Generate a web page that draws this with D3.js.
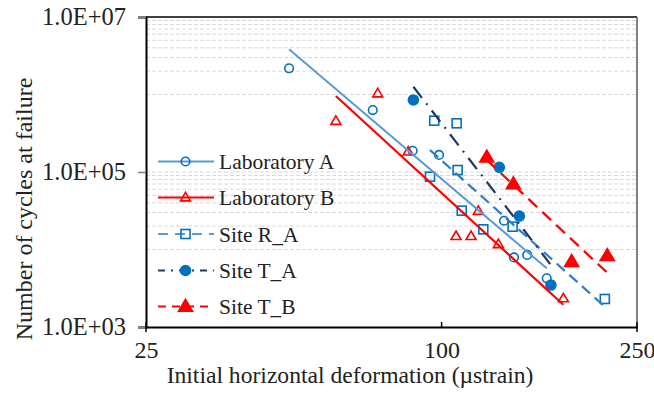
<!DOCTYPE html>
<html><head><meta charset="utf-8">
<script src="https://cdn.jsdelivr.net/npm/d3@7"></script>
<style>body{margin:0;background:#fff}svg{display:block}</style>
</head><body><svg id="c" width="654" height="393"></svg>
<script>
// ---- data ----
const xTicks = [25, 100, 250];
const yTicks = [1e3, 1e5, 1e7];
const yTickLabels = ["1.0E+03", "1.0E+05", "1.0E+07"];
const gridValues = [1e4,2e4,3e4,4e4,5e4,6e4,7e4,8e4,9e4,1e5,1e6,2e6,3e6,4e6,5e6,6e6,7e6,8e6,9e6];
const seriesNames = ["Laboratory A", "Laboratory B", "Site R_A", "Site T_A", "Site T_B"];

const labA_x = [48.9, 72.4, 87.3, 98.8, 134, 140.4, 149.4, 163.7];
const labA_y = [2.18e6, 6.3e5, 1.88e5, 1.66e5, 2.35e4, 7.9e3, 8.5e3, 4.25e3];
const labA_trend = [[48.9, 3.83e6], [163.7, 5.72e3]];

const labB_x = [60.9, 74.1, 85.5, 118.8, 107, 114.8, 130.5, 177];
const labB_y = [4.55e5, 1.03e6, 1.83e5, 3.14e4, 1.49e4, 1.49e4, 1.17e4, 2.34e3];
const labB_trend = [[60.9, 9.57e5], [177, 1.94e3]];

const siteRA_x = [96.6, 107.3, 107.8, 94.7, 109.9, 121.6, 139.5, 215];
const siteRA_y = [4.59e5, 4.25e5, 1.06e5, 8.7e4, 3.17e4, 1.82e4, 1.97e4, 2.3e3];
const siteRA_trend = [[94.7, 1.92e5], [215, 1.83e3]];

const siteTA_x = [87.6, 131.1, 144, 167];
const siteTA_y = [8.5e5, 1.15e5, 2.7e4, 3.48e3];
const siteTA_trend = [[87.6, 1.26e6], [167, 6.3e3]];

const siteTB_x = [123.6, 140, 184, 217.5];
const siteTB_y = [1.55e5, 7.0e4, 6.97e3, 8.3e3];
const siteTB_trend = [[123.6, 1.43e5], [217.5, 5.0e3]];

// ---- layout ----
const FONT = "'Liberation Serif', 'Times New Roman', Times, serif";
const L = 146, R = 637, T = 17, B = 327;
const svg = d3.select("#c");
const x = d3.scaleLog().domain([25, 250]).range([L, R]);
const y = d3.scaleLog().domain([1e3, 1e7]).range([B, T]);

// gridlines
svg.append("g").selectAll("line").data(gridValues).join("line")
  .attr("x1", L).attr("x2", R).attr("y1", d => y(d)).attr("y2", d => y(d))
  .attr("stroke", "#d9d9d9").attr("stroke-width", 1).attr("stroke-dasharray", "4,2");

// frame
svg.append("line").attr("x1", L).attr("x2", R).attr("y1", T).attr("y2", T).attr("stroke", "#000").attr("stroke-width", 1.5);
svg.append("line").attr("x1", R).attr("x2", R).attr("y1", T).attr("y2", B).attr("stroke", "#595959").attr("stroke-width", 1.5);

// axes
const yAxis = d3.axisLeft(y).tickValues(yTicks).tickSize(8).tickPadding(12)
  .tickFormat((d, i) => yTickLabels[i]);
const gy = svg.append("g").attr("transform", `translate(${L},0)`).call(yAxis).attr("font-family", null);
gy.select(".domain").attr("stroke", "#000").attr("stroke-width", 2);
gy.selectAll(".tick line").attr("stroke", "#7f7f7f").attr("stroke-width", 1.5);
gy.selectAll(".tick text").style("font-family", FONT).style("font-size", "24.5px").attr("fill", "#222");

const xAxis = d3.axisBottom(x).tickValues(xTicks).tickSize(0).tickPadding(14).tickFormat(d3.format("d"));
const gx = svg.append("g").attr("transform", `translate(0,${B})`).call(xAxis).attr("font-family", null);
gx.select(".domain").attr("stroke", "#000").attr("stroke-width", 2);
gx.selectAll(".tick text").style("font-family", FONT).style("font-size", "24px").attr("fill", "#222");
// small tick marks
svg.append("g").selectAll("line").data(xTicks).join("line")
  .attr("x1", d => x(d)).attr("x2", d => x(d))
  .attr("y1", B - 5).attr("y2", d => (d === 100 ? B : B + 5))
  .attr("stroke", "#000").attr("stroke-width", 1.5);

// titles
svg.append("text").attr("x", 350).attr("y", 383).attr("text-anchor", "middle")
  .style("font-family", FONT).style("font-size", "23.6px").attr("fill", "#222")
  .text("Initial horizontal deformation (µstrain)");
svg.append("text").attr("transform", "translate(32,209) rotate(-90)").attr("text-anchor", "middle")
  .style("font-family", FONT).style("font-size", "24px").attr("fill", "#222")
  .text("Number of cycles at failure");

// series definitions
const series = [
  {name: seriesNames[0], xs: labA_x, ys: labA_y, trend: labA_trend, line: "#5b9bd5", legLine: "#5b9bd5", width: 2, dash: null, legDash: null, marker: "circle", fill: "none", mc: "#0070c0", size: 4.3},
  {name: seriesNames[1], xs: labB_x, ys: labB_y, trend: labB_trend, line: "#ff0000", legLine: "#ff0000", width: 2.2, dash: null, legDash: null, marker: "triangle", fill: "none", mc: "#ff0000", size: 5},
  {name: seriesNames[2], xs: siteRA_x, ys: siteRA_y, trend: siteRA_trend, line: "#2e7ccc", legLine: "#5b9bd5", width: 2.2, dash: "11,6", legDash: "10,7", marker: "square", fill: "none", mc: "#0070c0", size: 4.5},
  {name: seriesNames[3], xs: siteTA_x, ys: siteTA_y, trend: siteTA_trend, line: "#1f3864", legLine: "#1f3864", width: 2.2, dash: "14,7,2,7", legDash: "7,6,2,6", marker: "circle", fill: "#0070c0", mc: "#0070c0", size: 5},
  {name: seriesNames[4], xs: siteTB_x, ys: siteTB_y, trend: siteTB_trend, line: "#ff0000", legLine: "#ff0000", width: 2.2, dash: "12,7", legDash: "8,6", marker: "triangle", fill: "#ff0000", mc: "#ff0000", size: 7}
];

function drawMarker(g, s, cx, cy) {
  if (s.marker === "circle") {
    g.append("circle").attr("cx", cx).attr("cy", cy).attr("r", s.size)
      .attr("fill", s.fill).attr("stroke", s.mc).attr("stroke-width", 1.6);
  } else if (s.marker === "square") {
    g.append("rect").attr("x", cx - s.size).attr("y", cy - s.size).attr("width", 2 * s.size).attr("height", 2 * s.size)
      .attr("fill", "none").attr("stroke", s.mc).attr("stroke-width", 1.6);
  } else {
    const h = s.size * 1.7, w = s.size;
    g.append("path").attr("d", `M${cx},${cy - h * 0.6}L${cx + w},${cy + h * 0.4}L${cx - w},${cy + h * 0.4}Z`)
      .attr("fill", s.fill).attr("stroke", s.mc).attr("stroke-width", 1.6);
  }
}

const plot = svg.append("g");
const lineGen = d3.line().x(d => x(d[0])).y(d => y(d[1]));
series.forEach(s => {
  const g = plot.append("g");
  s.xs.forEach((xv, i) => drawMarker(g, s, x(xv), y(s.ys[i])));
});
series.forEach(s => {
  plot.append("path").attr("d", lineGen(s.trend)).attr("fill", "none")
    .attr("stroke", s.line).attr("stroke-width", s.width)
    .attr("stroke-dasharray", s.dash);
});

// legend
const legendY = [161.5, 197.5, 234, 270.5, 306.5];
series.forEach((s, i) => {
  const g = svg.append("g");
  const ly = legendY[i];
  g.append("line").attr("x1", 158).attr("x2", 214).attr("y1", ly).attr("y2", ly)
    .attr("stroke", s.legLine).attr("stroke-width", s.width).attr("stroke-dasharray", s.legDash);
  drawMarker(g, s, 185.5, ly);
  g.append("text").attr("x", 219).attr("y", ly).attr("dy", "0.35em")
    .style("font-family", FONT).style("font-size", "21.5px").attr("fill", "#222").text(s.name);
});
</script></body></html>
